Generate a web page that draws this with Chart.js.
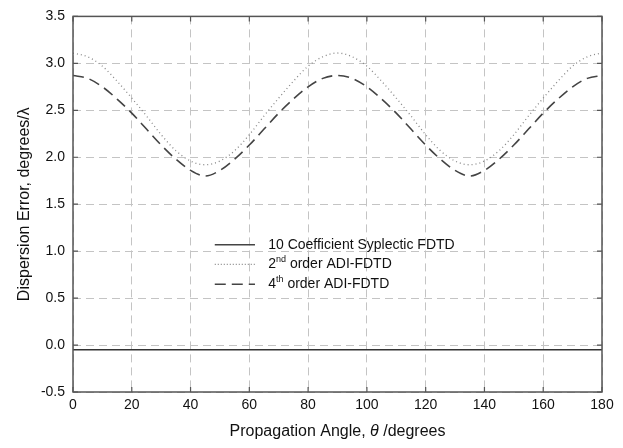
<!DOCTYPE html>
<html>
<head>
<meta charset="utf-8">
<script src="https://cdn.jsdelivr.net/npm/chart.js@4/dist/chart.umd.min.js"></script>
<style>
  html, body { margin: 0; padding: 0; background: #fff; }
  #wrap { width: 623px; height: 448px; }
</style>
</head>
<body>
<div id="wrap"><canvas id="dispersion" width="623" height="448"></canvas></div>
<script>
// propagation angle, degrees
const angles = [0, 5, 10, 15, 20, 25, 30, 35, 40, 45, 50, 55, 60, 65, 70, 75, 80, 85, 90,
  95, 100, 105, 110, 115, 120, 125, 130, 135, 140, 145, 150, 155, 160, 165, 170, 175, 180];

// 2nd order ADI-FDTD (dotted)
const adi2 = [3.11, 3.07, 2.97, 2.81, 2.63, 2.44, 2.24, 2.07, 1.96, 1.92, 1.96, 2.07, 2.24, 2.44, 2.63, 2.81, 2.97, 3.07, 3.11,
  3.07, 2.97, 2.81, 2.63, 2.44, 2.24, 2.07, 1.96, 1.92, 1.96, 2.07, 2.24, 2.44, 2.63, 2.81, 2.97, 3.07, 3.11];

// 4th order ADI-FDTD (dashed)
const adi4 = [2.87, 2.84, 2.75, 2.62, 2.47, 2.30, 2.13, 1.98, 1.86, 1.80, 1.86, 1.98, 2.13, 2.30, 2.47, 2.62, 2.75, 2.84, 2.87,
  2.84, 2.75, 2.62, 2.47, 2.30, 2.13, 1.98, 1.86, 1.80, 1.86, 1.98, 2.13, 2.30, 2.47, 2.62, 2.75, 2.84, 2.87];

// 10 coefficient symplectic FDTD (solid, flat)
const sympAngles = [0, 180];
const symp = [-0.05, -0.05];

const legendRows = [
  { base: "10 Coefficient Syplectic FDTD", sup: "", rest: "", dash: [] },
  { base: "2", sup: "nd", rest: " order ADI-FDTD", dash: [1, 2] },
  { base: "4", sup: "th", rest: " order ADI-FDTD", dash: [11, 6] }
];

const xy = (xs, ys) => xs.map((x, i) => ({ x: x, y: ys[i] }));

const FONT = "Liberation Sans, Arial, sans-serif";

// frame, inward tick marks, legend with superscripts, x title with italic theta
const framePlugin = {
  id: "frame",
  afterDatasetsDraw(chart) {
    const ctx = chart.ctx;
    const a = chart.chartArea;
    const xs = chart.scales.x, ys = chart.scales.y;
    ctx.save();
    ctx.strokeStyle = "#555";
    ctx.lineWidth = 1.5;
    ctx.setLineDash([]);
    ctx.strokeRect(a.left, a.top, a.right - a.left, a.bottom - a.top);
    ctx.lineWidth = 1.2;
    ctx.beginPath();
    xs.ticks.forEach(t => {
      const px = xs.getPixelForValue(t.value);
      ctx.moveTo(px, a.bottom); ctx.lineTo(px, a.bottom - 5);
      ctx.moveTo(px, a.top); ctx.lineTo(px, a.top + 5);
    });
    ys.ticks.forEach(t => {
      const py = ys.getPixelForValue(t.value);
      ctx.moveTo(a.left, py); ctx.lineTo(a.left + 5, py);
      ctx.moveTo(a.right, py); ctx.lineTo(a.right - 5, py);
    });
    ctx.stroke();

    // legend
    const w = a.right - a.left, h = a.bottom - a.top;
    const x0 = a.left + 0.268 * w, x1 = a.left + 0.344 * w, tx = a.left + 0.369 * w;
    const rowY = [0.608, 0.66, 0.713];
    legendRows.forEach((r, i) => {
      const y = a.top + rowY[i] * h;
      ctx.strokeStyle = i === 1 ? "#888" : "#444";
      ctx.lineWidth = i === 1 ? 1.2 : 1.5;
      ctx.setLineDash(r.dash);
      ctx.beginPath(); ctx.moveTo(x0, y); ctx.lineTo(x1, y); ctx.stroke();
      ctx.setLineDash([]);
      ctx.fillStyle = "#111";
      ctx.textBaseline = "middle";
      ctx.font = "14px " + FONT;
      let cx = tx;
      ctx.fillText(r.base, cx, y);
      cx += ctx.measureText(r.base).width;
      if (r.sup) {
        ctx.font = "9px " + FONT;
        ctx.fillText(r.sup, cx, y - 5);
        cx += ctx.measureText(r.sup).width;
        ctx.font = "14px " + FONT;
        ctx.fillText(r.rest, cx, y);
      }
    });

    // x axis title
    const parts = [
      { t: "Propagation Angle, ", f: "16px " + FONT },
      { t: "\u03B8", f: "italic 16px " + FONT },
      { t: " /degrees", f: "16px " + FONT }
    ];
    let total = 0;
    parts.forEach(p => { ctx.font = p.f; total += ctx.measureText(p.t).width; });
    let px = (a.left + a.right) / 2 - total / 2;
    const py = xs.bottom - 16;
    ctx.fillStyle = "#111";
    ctx.textBaseline = "middle";
    parts.forEach(p => { ctx.font = p.f; ctx.fillText(p.t, px, py); px += ctx.measureText(p.t).width; });
    ctx.restore();
  }
};

new Chart(document.getElementById("dispersion"), {
  type: "line",
  data: {
    datasets: [
      {
        label: "10 Coefficient Syplectic FDTD",
        data: xy(sympAngles, symp),
        borderColor: "#333",
        borderWidth: 1.5,
        pointRadius: 0
      },
      {
        label: "2nd order ADI-FDTD",
        data: xy(angles, adi2),
        borderColor: "#888",
        borderWidth: 1.3,
        borderDash: [1, 3],
        pointRadius: 0,
        cubicInterpolationMode: "monotone"
      },
      {
        label: "4th order ADI-FDTD",
        data: xy(angles, adi4),
        borderColor: "#444",
        borderWidth: 1.6,
        borderDash: [11, 6],
        pointRadius: 0,
        cubicInterpolationMode: "monotone"
      }
    ]
  },
  options: {
    responsive: false,
    animation: false,
    layout: { padding: { left: 0, top: 12, right: 21, bottom: 0 } },
    plugins: {
      legend: { display: false },
      tooltip: { enabled: false }
    },
    scales: {
      x: {
        type: "linear",
        min: 0,
        max: 180,
        afterFit: s => { s.height = 56; },
        ticks: { stepSize: 20, color: "#111", font: { size: 14, family: FONT }, padding: 5, maxRotation: 0 },
        grid: { color: "#c4c4c4", lineWidth: 1, drawTicks: false },
        border: { display: false, dash: [8, 5] },
        title: { display: false }
      },
      y: {
        min: -0.5,
        max: 3.5,
        afterFit: s => { s.width = 73; },
        ticks: {
          stepSize: 0.5,
          color: "#111",
          font: { size: 14, family: FONT },
          padding: 8,
          callback: v => v.toFixed(1)
        },
        grid: { color: "#c4c4c4", lineWidth: 1, drawTicks: false },
        border: { display: false, dash: [8, 5] },
        title: {
          display: true,
          text: "Dispersion Error, degrees/\u03BB",
          color: "#111",
          font: { size: 16, family: FONT },
          padding: { top: 15, bottom: 0 }
        }
      }
    }
  },
  plugins: [framePlugin]
});
</script>
</body>
</html>
